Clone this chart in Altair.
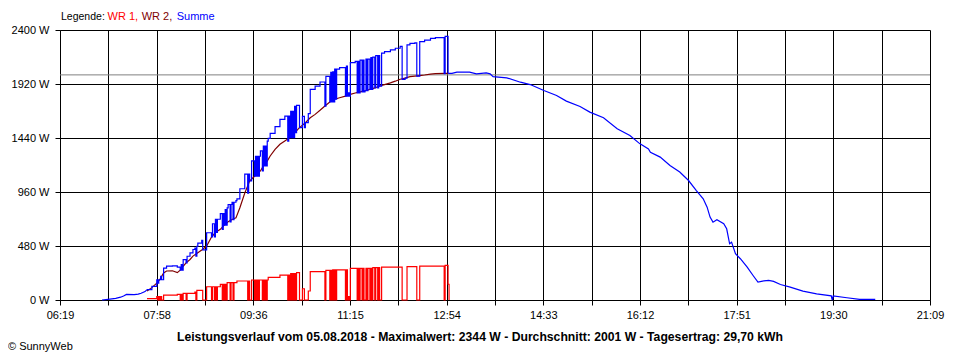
import altair as alt
import pandas as pd

# ---------------- data ----------------
x_labels = ["06:19", "07:58", "09:36", "11:15", "12:54", "14:33", "16:12", "17:51", "19:30", "21:09"]
y_ticks = [0, 480, 960, 1440, 1920, 2400]

legend_title = "Legende:"
series_names = ["WR 1", "WR 2", "Summe"]
series_colors = ["#ff0000", "#800000", "#0000ff"]

title_text = ("Leistungsverlauf vom 05.08.2018 - Maximalwert: 2344 W - "
              "Durchschnitt: 2001 W - Tagesertrag: 29,70 kWh")
credit_text = "© SunnyWeb"
average_watt = 2001

wr1_time = ["07:48", "07:58", "07:59", "08:00", "08:01", "08:02", "08:03", "08:05", "08:19", "08:22",
            "08:23", "08:24", "08:25", "08:28", "08:29", "08:37", "08:38", "08:39", "08:45", "08:49",
            "08:54", "08:55", "08:57", "08:58", "08:59", "09:00", "09:03", "09:05", "09:06", "09:07",
            "09:08", "09:09", "09:10", "09:13", "09:14", "09:16", "09:17", "09:20", "09:31", "09:32",
            "09:33", "09:35", "09:38", "09:39", "09:40", "09:41", "09:42", "09:43", "09:46", "09:47",
            "09:48", "09:49", "09:50", "09:51", "09:52", "10:04", "10:12", "10:13", "10:14", "10:15",
            "10:16", "10:17", "10:18", "10:19", "10:20", "10:21", "10:24", "10:27", "10:29", "10:33",
            "10:35", "10:50", "10:51", "10:55", "10:56", "10:57", "10:58", "10:59", "11:00", "11:01",
            "11:02", "11:11", "11:12", "11:13", "11:14", "11:15", "11:16", "11:23", "11:24", "11:25",
            "11:26", "11:28", "11:29", "11:30", "11:32", "11:33", "11:34", "11:36", "11:37", "11:38",
            "11:39", "11:41", "11:42", "11:44", "11:45", "11:46", "11:48", "12:09",
            "12:14", "12:24", "12:27", "12:52", "12:53", "12:56", "12:57"]
wr1_watt = [12, 30, 0, 30, 0, 30, 0, 44, 50, 0,
            50, 0, 59, 0, 59, 71, 0, 86, 0, 118,
            0, 118, 0, 118, 0, 118, 139, 0, 139, 0,
            139, 0, 154, 0, 154, 0, 154, 169, 0, 169,
            0, 178, 0, 178, 0, 178, 0, 178, 0, 178,
            0, 178, 0, 178, 202, 222, 0, 222, 0, 234,
            0, 234, 0, 234, 0, 243, 0, 100, 0, 80,
            252, 0, 264, 0, 264, 0, 267, 0, 267, 0,
            267, 0, 267, 0, 30, 0, 282, 0, 282, 0,
            282, 0, 282, 0, 282, 0, 282, 0, 282, 0,
            287, 0, 287, 0, 287, 0, 293, 0,
            296, 0, 302, 0, 308, 140, 0]

wr2_time = ["07:48", "07:53", "07:58", "08:01", "08:05", "08:08", "08:14", "08:19", "08:22", "08:25",
            "08:28", "08:32", "08:35", "08:40", "08:44", "08:49", "08:54", "08:58", "09:03", "09:07",
            "09:11", "09:15", "09:19", "09:23", "09:28", "09:33", "09:38", "09:44", "09:47", "09:51",
            "09:54", "09:59", "10:04", "10:09", "10:14", "10:19", "10:24", "10:30", "10:35", "10:40",
            "10:45", "10:50", "10:55", "11:00", "11:05", "11:11", "11:16", "11:21", "11:26", "11:31",
            "11:36", "11:41", "11:46", "11:51", "11:57", "12:02", "12:07", "12:12", "12:17", "12:22",
            "12:27", "12:32", "12:38", "12:43", "12:53", "12:56"]
wr2_watt = [80, 110, 150, 180, 240, 258, 260, 243, 265, 300,
            330, 360, 390, 420, 445, 480, 560, 600, 628, 665,
            695, 715, 730, 820, 950, 1058, 1100, 1147, 1191, 1235,
            1280, 1339, 1384, 1413, 1443, 1487, 1532, 1576, 1620, 1650,
            1686, 1724, 1760, 1785, 1798, 1812, 1828, 1840, 1850, 1860,
            1872, 1885, 1902, 1915, 1930, 1945, 1962, 1972, 1985, 1990,
            1995, 2000, 2008, 2012, 2014, 2014]

sum_time = ["07:02", "07:10", "07:16", "07:21", "07:24", "07:27", "07:35", "07:39", "07:42", "07:46",
            "07:48", "07:53", "07:58", "07:59", "08:00", "08:01", "08:02", "08:03", "08:05", "08:08",
            "08:14", "08:19", "08:22", "08:23", "08:24", "08:25", "08:28", "08:29", "08:32", "08:35",
            "08:37", "08:38", "08:39", "08:40", "08:44", "08:45", "08:49", "08:54", "08:55", "08:57",
            "08:58", "08:59", "09:00", "09:03", "09:05", "09:06", "09:07", "09:08", "09:09", "09:10",
            "09:11", "09:13", "09:14", "09:15", "09:16", "09:17", "09:19", "09:20", "09:23", "09:28",
            "09:31", "09:32", "09:33", "09:35", "09:38", "09:39", "09:40", "09:41", "09:42", "09:43",
            "09:44", "09:46", "09:47", "09:48", "09:49", "09:50", "09:51", "09:52", "09:54", "09:59",
            "10:04", "10:09", "10:12", "10:13", "10:14", "10:15", "10:16", "10:17", "10:18", "10:19",
            "10:20", "10:21", "10:24", "10:27", "10:29", "10:30", "10:33", "10:35", "10:40", "10:45",
            "10:50", "10:51", "10:55", "10:56", "10:57", "10:58", "10:59", "11:00", "11:01", "11:02",
            "11:05", "11:11", "11:12", "11:13", "11:14", "11:15", "11:16", "11:21", "11:23", "11:24",
            "11:25", "11:26", "11:28", "11:29", "11:30", "11:31", "11:32", "11:33", "11:34", "11:36",
            "11:37", "11:38", "11:39", "11:41", "11:42", "11:44", "11:45", "11:46", "11:48",
            "11:51", "11:57", "12:02", "12:07", "12:09", "12:12", "12:14", "12:17", "12:22", "12:24",
            "12:27", "12:32", "12:38", "12:43", "12:52", "12:53", "12:56", "13:00", "13:05", "13:18",
            "13:25", "13:35", "13:39", "13:42", "13:56", "14:10", "14:20", "14:34", "14:47", "14:57",
            "15:11", "15:21", "15:35", "15:49", "16:02", "16:12", "16:21", "16:23", "16:33", "16:43",
            "16:53", "17:02", "17:10", "17:17", "17:21", "17:24", "17:27", "17:31", "17:38", "17:41",
            "17:44", "17:46", "17:50", "17:55", "18:02", "18:08", "18:13", "18:19", "18:24", "18:29",
            "18:36", "18:46", "18:59", "19:13", "19:28", "19:29", "19:30", "19:44", "19:57", "20:13"]
sum_watt = [0, 8, 15, 25, 36, 50, 48, 52, 60, 75,
            92, 122, 180, 150, 180, 180, 210, 180, 284, 302,
            304, 293, 265, 315, 265, 359, 330, 389, 419, 449,
            461, 390, 476, 506, 531, 445, 598, 560, 678, 560,
            718, 600, 718, 767, 628, 767, 665, 804, 665, 819,
            849, 695, 849, 869, 715, 869, 884, 899, 989, 1119,
            950, 1119, 1058, 1236, 1100, 1278, 1100, 1278, 1100, 1278,
            1325, 1147, 1369, 1191, 1369, 1191, 1413, 1437, 1482, 1541,
            1606, 1635, 1413, 1635, 1443, 1677, 1443, 1677, 1443, 1721,
            1487, 1730, 1532, 1632, 1532, 1576, 1656, 1872, 1902, 1938,
            1724, 1988, 1760, 2024, 1760, 2027, 1760, 2052, 1785, 2052,
            2065, 1812, 2079, 1812, 1842, 1812, 2110, 2122, 1840, 2122,
            1840, 2132, 1850, 2132, 1850, 1860, 2142, 1860, 2142, 1872,
            2154, 1872, 2159, 1885, 2172, 1885, 2172, 1902, 2195,
            2208, 2223, 2238, 2255, 1962, 1972, 2268, 2281, 2286, 1990,
            2297, 2310, 2325, 2332, 2012, 2344, 2015, 2015, 2025, 2025,
            2010, 2018, 2010, 1985, 1975, 1936, 1915, 1862, 1818, 1768,
            1720, 1670, 1620, 1522, 1462, 1390, 1343, 1313, 1270, 1196,
            1137, 1062, 973, 900, 825, 737, 692, 713, 678, 633,
            500, 514, 411, 367, 292, 218, 159, 170, 174, 165,
            138, 114, 79, 55, 37, 0, 37, 20, 6, 6]

# ---------------- build tables ----------------
FONT = "Liberation Sans"


def to_min(s):
    h, m = s.split(":")
    return int(h) * 60 + int(m)


x_start, x_end = to_min(x_labels[0]), to_min(x_labels[-1])
n_grid = 2 * (len(x_labels) - 1)
step = (x_end - x_start) / n_grid
x_ticks = [x_start + k * step for k in range(n_grid + 1)]
label_array = "[" + ",".join("'%s'" % s for s in x_labels) + "]"
x_label_expr = ("round((datum.value - %f) / %f) %% 2 == 0 ? %s[round((datum.value - %f) / %f) / 2] : ''"
                % (x_start, step, label_array, x_start, step))

lines = pd.concat([
    pd.DataFrame({"series": series_names[0], "minute": [to_min(t) for t in wr1_time], "watt": wr1_watt}),
    pd.DataFrame({"series": series_names[1], "minute": [to_min(t) for t in wr2_time], "watt": wr2_watt}),
], ignore_index=True)

prod_start, prod_end = to_min(wr2_time[0]), to_min(wr2_time[-1])
rows = []
for t, w in zip(sum_time, sum_watt):
    m = to_min(t)
    if m <= prod_start:
        rows.append(("early", m, w))
    if prod_start <= m <= prod_end:
        rows.append(("mid", m, w))
    if m >= prod_end:
        rows.append(("late", m, w))
summe = pd.DataFrame(rows, columns=["segment", "minute", "watt"])

# ---------------- encodings ----------------
axis_common = dict(title=None, grid=True, gridColor="#000000", gridOpacity=1, gridWidth=1,
                   domainColor="#000000", domainWidth=1, tickColor="#000000", tickWidth=1,
                   tickSize=5, labelFont=FONT, labelFontSize=11, labelColor="#000000",
                   labelOverlap=False, labelFlush=False)

x_enc = alt.X("minute:Q",
              scale=alt.Scale(domain=[x_start, x_end], nice=False, zero=False),
              axis=alt.Axis(values=x_ticks, labelExpr=x_label_expr, labelPadding=4,
                            labelAngle=0, **axis_common))
y_enc = alt.Y("watt:Q",
              scale=alt.Scale(domain=[y_ticks[0], y_ticks[-1]], nice=False),
              axis=alt.Axis(values=y_ticks, labelExpr="datum.value + ' W'", labelPadding=6,
                            **axis_common))

LW = 1.2

avg_rule = alt.Chart(pd.DataFrame({"watt": [average_watt]})).mark_rule(
    color="#808080", strokeWidth=1).encode(y=y_enc)

wr1_line = alt.Chart(lines).transform_filter(
    alt.datum.series == series_names[0]).mark_line(
    color=series_colors[0], strokeWidth=LW, interpolate="step-after").encode(x=x_enc, y=y_enc)

wr2_line = alt.Chart(lines).transform_filter(
    alt.datum.series == series_names[1]).mark_line(
    color=series_colors[1], strokeWidth=LW).encode(x=x_enc, y=y_enc)

sum_mid = alt.Chart(summe).transform_filter(alt.datum.segment == "mid").mark_line(
    color=series_colors[2], strokeWidth=LW, interpolate="step-after").encode(x=x_enc, y=y_enc)

sum_outer = alt.Chart(summe).transform_filter(alt.datum.segment != "mid").mark_line(
    color=series_colors[2], strokeWidth=LW).encode(x=x_enc, y=y_enc, detail="segment:N")


def text_layer(text, x, y, color, size=11, bold=False, align="left"):
    return alt.Chart(pd.DataFrame({"t": [text]})).mark_text(
        align=align, baseline="alphabetic", font=FONT, fontSize=size,
        fontWeight="bold" if bold else "normal", color=color
    ).encode(text="t:N", x=alt.value(x), y=alt.value(y))


legend_x = [1, 47.5, 81.7, 116.7]
legend_sizes = [10.5, 11, 11, 11]
legend_texts = [legend_title, series_names[0] + ",", series_names[1] + ",", series_names[2]]
legend_cols = ["#000000"] + series_colors
legend_layers = [text_layer(t, x, -10, c, size=s)
                 for t, x, c, s in zip(legend_texts, legend_x, legend_cols, legend_sizes)]

title_layer = text_layer(title_text, 420, 311, "#000000", size=12.2, bold=True, align="center")
credit_layer = text_layer(credit_text, -52, 320, "#000000")

chart = alt.layer(
    avg_rule, wr1_line, wr2_line, sum_outer, sum_mid,
    *legend_layers, title_layer, credit_layer
).properties(
    width=870, height=270,
    autosize=alt.AutoSizeParams(type="none"),
    padding={"left": 52, "top": 22, "right": 22, "bottom": 52},
    background="#ffffff",
).configure_view(strokeWidth=0)

chart.save("out.html", embed_options={"renderer": "svg", "actions": False})
